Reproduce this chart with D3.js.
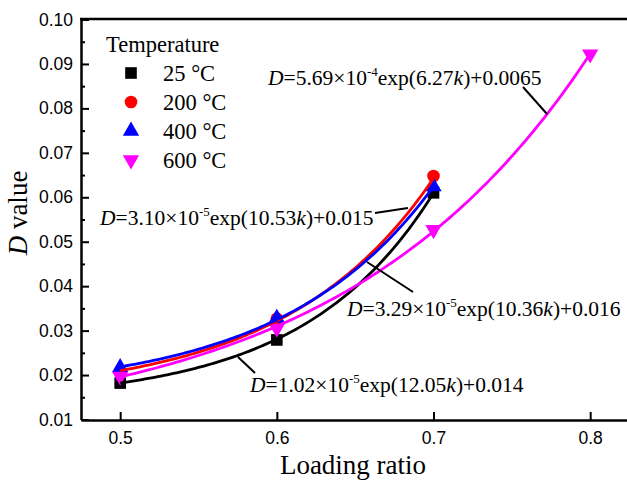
<!DOCTYPE html>
<html>
<head>
<meta charset="utf-8">
<script src="https://cdn.jsdelivr.net/npm/d3@7"></script>
<style>
  body { margin: 0; background: #fff; }
  text { font-family: "Liberation Serif", "Times New Roman", serif; }
  .tick text { font-family: "Liberation Sans", Arial, sans-serif; }
</style>
</head>
<body>
<script>
const width = 627;
const height = 484;

// measured data points
const loadings = [0.5, 0.6, 0.7, 0.8];
const temps = ["25 °C", "200 °C", "400 °C", "600 °C"];
const colors = ["#000000", "#ff0000", "#0000ff", "#ff00ff"];
const d25 = [0.0182, 0.0279, 0.0610];
const d200 = [0.0207, 0.0327, 0.0648];
const d400 = [0.0217, 0.0328, 0.0624];
const d600 = [0.0197, 0.0305, 0.0527, 0.0922];
// fit parameters printed on the chart: D = A*exp(b*k) + c
const fitA = [1.02e-5, 3.10e-5, 3.29e-5, 5.69e-4];
const fitB = [12.05, 10.53, 10.36, 6.27];
const fitC = [0.014, 0.015, 0.016, 0.0065];
const fitEnd = [0.7, 0.7, 0.7, 0.8];
const xTicks = [0.5, 0.6, 0.7, 0.8];
const yTicks = [0.01, 0.02, 0.03, 0.04, 0.05, 0.06, 0.07, 0.08, 0.09, 0.10];

const series = [d25, d200, d400, d600];

const margin = {top: 19, left: 81, bottom: 64, right: 0};

const x = d3.scaleLinear().domain([0.475, 0.8235]).range([margin.left, width]);
const y = d3.scaleLinear().domain([0.01, 0.10]).range([height - margin.bottom - 0.5, margin.top + 0.5]);

const svg = d3.select('body').append('svg').attr('width', width).attr('height', height);

// axes
const xAxis = svg.append('g').attr('transform', `translate(0,${height - margin.bottom})`)
  .call(d3.axisBottom(x).tickValues(xTicks).tickFormat(d3.format('.1f')).tickSizeInner(-8).tickSizeOuter(0));
const yAxis = svg.append('g').attr('transform', `translate(${margin.left},0)`)
  .call(d3.axisLeft(y).tickValues(yTicks).tickFormat(d3.format('.2f')).tickSizeInner(-8).tickSizeOuter(0));
svg.append('g').attr('transform', `translate(${margin.left},0)`)
  .call(d3.axisLeft(y).tickValues(d3.range(0.015, 0.1, 0.01)).tickFormat('').tickSizeInner(-4).tickSizeOuter(0))
  .select('.domain').remove();

svg.selectAll('.domain').attr('stroke', '#000').attr('stroke-width', 2.5);
svg.selectAll('.tick line').attr('stroke', '#000').attr('stroke-width', 2);
xAxis.selectAll('.tick text').attr('font-size', 17.5).attr('y', 12).attr('dy', '0.71em').attr('fill', '#000');
yAxis.selectAll('.tick text').attr('font-size', 17.5).attr('x', -8).attr('fill', '#000');

// top border
svg.append('line').attr('x1', margin.left - 1).attr('x2', width).attr('y1', margin.top).attr('y2', margin.top)
  .attr('stroke', '#000').attr('stroke-width', 2.5);

// axis titles
svg.append('text').attr('x', 353).attr('y', 474).attr('text-anchor', 'middle').attr('font-size', 27)
  .text('Loading ratio');
const yt = svg.append('text').attr('transform', 'translate(27,213) rotate(-90)').attr('text-anchor', 'middle')
  .attr('font-size', 27);
yt.append('tspan').attr('font-style', 'italic').text('D');
yt.append('tspan').text(' value');

// symbols
const symbolTypes = [d3.symbolSquare, d3.symbolCircle, d3.symbolTriangle, d3.symbolTriangle];
const symbolSizes = [135, 125, 115, 115];
function sym(i) { return d3.symbol().type(symbolTypes[i]).size(symbolSizes[i])(); }
function symTransform(i, cx, cy) { return `translate(${cx},${cy})` + (i === 3 ? ' rotate(180)' : ''); }

// points
series.forEach((s, i) => {
  svg.append('g').selectAll('path').data(s).join('path')
    .attr('d', sym(i))
    .attr('fill', colors[i])
    .attr('transform', (d, j) => symTransform(i, x(loadings[j]), y(d)));
});

// fit curves
const line = d3.line().x(d => x(d[0])).y(d => y(d[1])).curve(d3.curveLinear);
series.forEach((s, i) => {
  const pts = d3.range(0, 101).map(t => {
    const k = 0.5 + (fitEnd[i] - 0.5) * t / 100;
    return [k, fitA[i] * Math.exp(fitB[i] * k) + fitC[i]];
  });
  svg.append('path').datum(pts).attr('d', line).attr('fill', 'none')
    .attr('stroke', colors[i]).attr('stroke-width', 2.8);
});

// legend
const legend = svg.append('g');
legend.append('text').attr('x', 106).attr('y', 52).attr('font-size', 22.5).text('Temperature');
temps.forEach((t, i) => {
  const cy = [73, 102, 131, 160][i];
  legend.append('path').attr('d', sym(i)).attr('fill', colors[i]).attr('transform', symTransform(i, 131, cy));
  legend.append('text').attr('x', 163).attr('y', cy + 8).attr('font-size', 22.5).text(t);
});

// annotations
const labels = [
  {mant: '1.02', exp: '-5', b: '12.05', c: '0.014', tx: 250, ty: 392, l: [238, 357, 255, 373]},
  {mant: '3.10', exp: '-5', b: '10.53', c: '0.015', tx: 100, ty: 225, l: [375, 213, 408, 208]},
  {mant: '3.29', exp: '-5', b: '10.36', c: '0.016', tx: 347, ty: 316, l: [367, 262, 413, 292]},
  {mant: '5.69', exp: '-4', b: '6.27', c: '0.0065', tx: 268, ty: 85, l: [523, 87, 547, 114]}
];
labels.forEach(a => {
  svg.append('line').attr('x1', a.l[0]).attr('y1', a.l[1]).attr('x2', a.l[2]).attr('y2', a.l[3])
    .attr('stroke', '#000').attr('stroke-width', 2);
  const t = svg.append('text').attr('x', a.tx).attr('y', a.ty).attr('font-size', 21.5);
  t.append('tspan').attr('font-style', 'italic').text('D');
  t.append('tspan').text('=' + a.mant + '×10');
  t.append('tspan').attr('font-size', 13).attr('dy', -9).text(a.exp);
  t.append('tspan').attr('dy', 9).text('exp(' + a.b);
  t.append('tspan').attr('font-style', 'italic').text('k');
  t.append('tspan').text(')+' + a.c);
});
</script>
</body>
</html>
